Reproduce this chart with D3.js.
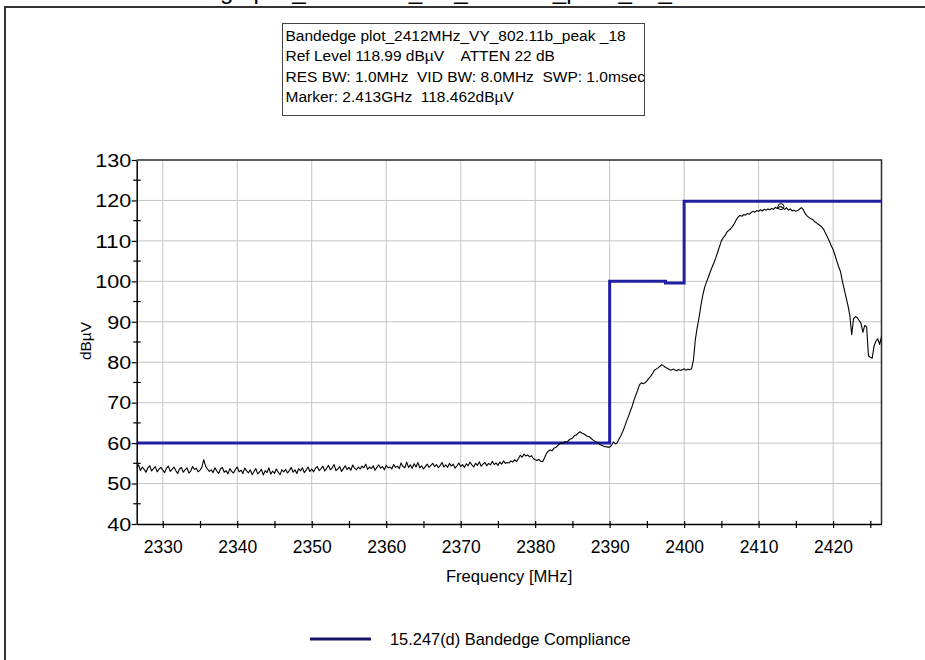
<!DOCTYPE html>
<html>
<head>
<meta charset="utf-8">
<script src="https://cdn.jsdelivr.net/npm/d3@7"></script>
<style>
  body { margin: 0; background: #fff; }
  svg text { font-family: "Liberation Sans", Arial, sans-serif; fill: #000; white-space: pre; }
</style>
</head>
<body>
<svg id="chart" width="925" height="660"></svg>
<script>
// ---- chart data ----
const plotTitle = "Bandedge plot_2412MHz_VY_802.11b_peak_18_";
const infoLines = [
  "Bandedge plot_2412MHz_VY_802.11b_peak _18",
  "Ref Level 118.99 dB\u00b5V    ATTEN 22 dB",
  "RES BW: 1.0MHz  VID BW: 8.0MHz  SWP: 1.0msec",
  "Marker: 2.413GHz  118.462dB\u00b5V"
];
const xTickValues = [2330, 2340, 2350, 2360, 2370, 2380, 2390, 2400, 2410, 2420];
const xMinorValues = [2335, 2345, 2355, 2365, 2375, 2385, 2395, 2405, 2415, 2425];
const yTickValues = [40, 50, 60, 70, 80, 90, 100, 110, 120, 130];
const yMinorValues = [45, 55, 65, 75, 85, 95, 105, 115, 125];
const xAxisTitle = "Frequency [MHz]";
const yAxisTitle = "dB\u00b5V";
const legendLabel = "15.247(d) Bandedge Compliance";

// analyzer sweep: 401 points, 0.25 MHz apart
const sweepStartMHz = 2326.5;
const sweepStopMHz = 2426.5;
const sweepStepMHz = 0.25;
const traceLevel = [
  53.8, 54.6, 53.2, 54.1, 53.5, 52.8, 53.9, 54.4, 53.1, 53.7, 54.2, 52.9, 53.6, 54.0, 53.3, 52.7, 53.8, 54.3, 53.0, 53.5,
  54.1, 53.2, 52.5, 53.6, 54.0, 52.8, 53.4, 53.9, 52.6, 53.1, 54.2, 53.5, 53.8, 52.9, 53.3, 54.0, 55.9, 54.3, 53.6, 53.0,
  53.4, 52.7, 53.9, 53.1, 52.5, 53.6, 54.0, 52.8, 53.2, 52.4, 53.7, 53.0, 52.6, 53.5, 54.1, 52.9, 53.3, 52.5, 53.8, 53.2,
  52.6, 53.4, 52.2, 53.0, 53.7, 52.4, 52.9, 53.5, 52.1, 53.2, 52.7, 53.9, 52.3, 53.1, 52.5, 53.6, 52.8, 52.2, 53.4, 52.9,
  53.5, 52.6, 53.2, 54.0, 52.8, 53.4, 52.5, 53.7, 53.1, 53.9, 52.7, 53.3, 54.1, 53.0, 53.6, 52.9, 53.8, 54.2, 53.2, 53.7,
  54.3, 53.1, 53.8, 54.5, 53.4, 53.9, 54.7, 53.2, 53.6, 54.2, 53.0, 53.7, 54.4, 53.5, 54.0, 53.3, 54.6, 53.8, 53.4, 54.1,
  53.6, 54.3, 53.9, 54.8, 53.5, 54.1, 53.7, 54.4, 53.3, 54.0, 54.6, 53.8, 54.2, 53.4, 54.5, 53.9, 54.1, 53.6, 54.7, 54.0,
  54.3, 53.7, 55.1, 54.2, 53.9, 55.3, 54.0, 54.6, 53.8, 54.9, 54.1, 55.2, 53.9, 54.4, 53.6, 54.2, 54.8, 54.0, 54.5, 55.0,
  54.2, 54.7, 53.9, 54.5, 55.2, 54.1, 54.6, 54.0, 55.0, 54.3, 54.8, 53.8, 54.4, 55.1, 54.2, 54.7, 54.0, 54.9, 54.4, 55.3,
  54.6, 54.1, 55.0, 54.5, 55.4, 54.3, 54.8, 55.2, 54.4, 55.0, 54.6, 55.5, 54.7, 55.1, 54.5, 55.3, 54.8, 55.6, 55.0, 55.2,
  55.1, 55.6, 55.3, 55.9, 55.4, 56.2, 57.0, 56.5, 57.3, 56.8, 57.1, 56.6, 56.9, 56.2, 55.9, 55.7, 56.0, 55.5, 55.4, 56.3,
  57.4, 58.0, 58.3, 58.1, 58.7, 58.9, 59.3, 59.8, 60.1, 59.9, 60.4, 60.2, 60.7, 61.0, 61.2, 61.8, 62.0, 62.4, 62.8, 62.5,
  62.3, 62.0, 61.7, 61.6, 61.2, 60.8, 60.5, 60.2, 60.0, 59.6, 59.4, 59.2, 59.1, 59.0, 59.0, 59.4, 60.3, 59.8, 60.0, 61.0,
  61.8, 62.8, 64.0, 65.3, 66.5, 67.8, 69.0, 70.5, 71.8, 73.0, 74.4, 74.9, 74.7, 74.9, 75.4, 76.0, 76.5, 77.2, 78.0, 78.3,
  78.6, 79.0, 79.4, 79.1, 78.7, 78.5, 78.2, 78.0, 78.3, 78.1, 77.9, 78.2, 78.0, 78.1, 78.4, 78.0, 78.3, 78.1, 78.4, 80.5,
  85.5, 88.5, 91.0, 94.0, 96.5, 98.5, 99.8, 101.0, 102.3, 103.5, 104.6, 105.8, 107.2, 108.6, 110.0, 110.8, 111.3, 112.2, 112.6, 113.0,
  113.6, 114.3, 115.2, 115.9, 116.3, 116.1, 116.5, 116.4, 116.8, 116.6, 117.0, 117.3, 117.1, 117.5, 117.3, 117.7, 117.4, 117.8, 117.6, 117.9,
  117.7, 118.0, 117.8, 118.3, 118.0, 118.4, 118.5, 118.1, 117.8, 118.2, 117.6, 117.9, 117.4, 117.6, 117.3, 117.5, 117.9, 118.2, 117.7, 116.8,
  116.2, 115.8, 115.5, 115.3, 114.8, 114.5, 114.1, 113.8, 113.4, 112.8, 111.8, 110.9, 109.9, 108.8, 107.9, 106.5, 105.0, 103.6, 102.4, 100.0,
  98.0, 96.0, 94.0, 91.5, 86.8, 90.8, 91.3, 91.0, 90.3, 89.6, 87.4, 89.1, 88.8, 81.6, 81.2, 81.0, 84.0, 85.2, 85.8, 84.4,
  86.3
];

// 15.247(d) limit line corners
const limitFreq = [2326.5, 2390, 2390, 2397.5, 2397.5, 2400, 2400, 2426.5];
const limitLevel = [60, 60, 100, 100, 99.6, 99.6, 119.8, 119.8];

const markerFreq = 2413;
const markerLevel = 118.462;

// ---- layout ----
const plotBox = { left: 136.7, right: 881.5, top: 160, bottom: 524 };
const limitColor = "#1f1fa3";
const legendColor = "#161668";

const svg = d3.select("#chart");

const x = d3.scaleLinear().domain([sweepStartMHz, sweepStopMHz]).range([plotBox.left, plotBox.right]);
const y = d3.scaleLinear().domain([40, 130]).range([plotBox.bottom, plotBox.top]);

// outer frame (top and left edges of the window panel)
svg.append("path")
  .attr("d", "M5,660 V7 H925")
  .attr("fill", "none").attr("stroke", "#333").attr("stroke-width", 2);

// title, mostly above the visible area
svg.append("text")
  .attr("x", 137).attr("y", -1.5)
  .attr("font-size", 24)
  .attr("textLength", 535).attr("lengthAdjust", "spacingAndGlyphs")
  .text(plotTitle);

// info box
svg.append("rect")
  .attr("x", 282.5).attr("y", 23.5).attr("width", 362).attr("height", 92)
  .attr("fill", "#fff").attr("stroke", "#444").attr("stroke-width", 1);
svg.append("g").selectAll("text").data(infoLines).join("text")
  .attr("x", 285.5)
  .attr("y", (d, i) => 41 + i * 20.3)
  .attr("font-size", 15.5)
  .text(d => d);

// gridlines
const grid = svg.append("g").attr("stroke", "#c4c4c4").attr("stroke-width", 1);
grid.selectAll("line.v").data(xTickValues).join("line").attr("class", "v")
  .attr("x1", d => x(d)).attr("x2", d => x(d))
  .attr("y1", plotBox.top).attr("y2", plotBox.bottom);
grid.selectAll("line.h").data(yTickValues.filter(v => v > 40 && v < 130)).join("line").attr("class", "h")
  .attr("x1", plotBox.left).attr("x2", plotBox.right)
  .attr("y1", d => y(d)).attr("y2", d => y(d));

// plot border (top and right)
svg.append("path")
  .attr("d", `M${plotBox.left},${plotBox.top} H${plotBox.right} V${plotBox.bottom}`)
  .attr("fill", "none").attr("stroke", "#2a2a2a").attr("stroke-width", 1.5);

// clipped data layer
svg.append("clipPath").attr("id", "plotClip")
  .append("rect")
  .attr("x", plotBox.left).attr("y", plotBox.top)
  .attr("width", plotBox.right - plotBox.left).attr("height", plotBox.bottom - plotBox.top);
const dataLayer = svg.append("g").attr("clip-path", "url(#plotClip)");

const limitPoints = limitFreq.map((f, i) => [f, limitLevel[i]]);
dataLayer.append("path")
  .datum(limitPoints)
  .attr("fill", "none").attr("stroke", limitColor).attr("stroke-width", 3)
  .attr("d", d3.line().x(d => x(d[0])).y(d => y(d[1])));

dataLayer.append("path")
  .datum(traceLevel)
  .attr("fill", "none").attr("stroke", "#000").attr("stroke-width", 1.1)
  .attr("stroke-linejoin", "round")
  .attr("d", d3.line().x((d, i) => x(sweepStartMHz + i * sweepStepMHz)).y(d => y(d)));

dataLayer.append("circle")
  .attr("cx", x(markerFreq)).attr("cy", y(markerLevel)).attr("r", 3)
  .attr("fill", "none").attr("stroke", "#000").attr("stroke-width", 1);

// x axis
const xAxis = svg.append("g")
  .attr("transform", `translate(0,${plotBox.bottom})`)
  .call(d3.axisBottom(x).tickValues(xTickValues.concat(xMinorValues))
    .tickSizeOuter(0)
    .tickFormat(d => xTickValues.includes(d) ? d : ""));
xAxis.select(".domain").attr("stroke", "#000").attr("stroke-width", 1.5);
xAxis.selectAll(".tick line").attr("y1", -3).attr("y2", 4).attr("stroke", "#000").attr("stroke-width", 1.2);
xAxis.selectAll(".tick text")
  .attr("y", 29.3).attr("dy", null)
  .attr("font-size", 17.5).attr("font-family", null);

// y axis
const yAxis = svg.append("g")
  .attr("transform", `translate(${plotBox.left},0)`)
  .call(d3.axisLeft(y).tickValues(yTickValues).tickSizeInner(5).tickSizeOuter(0).tickPadding(1));
yAxis.select(".domain").attr("stroke", "#000").attr("stroke-width", 1.5);
yAxis.selectAll(".tick line").attr("stroke", "#000").attr("stroke-width", 1.2);
yAxis.selectAll(".tick text")
  .attr("font-size", 17.5).attr("font-family", null)
  .attr("x", -5.5).attr("dy", "0.36em")
  .attr("textLength", d => String(d).length * 12)
  .attr("lengthAdjust", "spacingAndGlyphs");
svg.append("g").selectAll("line").data(yMinorValues).join("line")
  .attr("x1", plotBox.left - 3.5).attr("x2", plotBox.left + 4)
  .attr("y1", d => y(d)).attr("y2", d => y(d))
  .attr("stroke", "#000").attr("stroke-width", 1.2);

// axis titles
svg.append("text")
  .attr("x", (plotBox.left + plotBox.right) / 2).attr("y", 581.5)
  .attr("text-anchor", "middle").attr("font-size", 16.6)
  .text(xAxisTitle);
svg.append("text")
  .attr("transform", "translate(91,341) rotate(-90)")
  .attr("text-anchor", "middle").attr("font-size", 15.5)
  .text(yAxisTitle);

// legend
svg.append("line")
  .attr("x1", 310).attr("x2", 371).attr("y1", 639).attr("y2", 639)
  .attr("stroke", legendColor).attr("stroke-width", 3);
svg.append("text")
  .attr("x", 390).attr("y", 645)
  .attr("font-size", 16.4)
  .text(legendLabel);
</script>
</body>
</html>
